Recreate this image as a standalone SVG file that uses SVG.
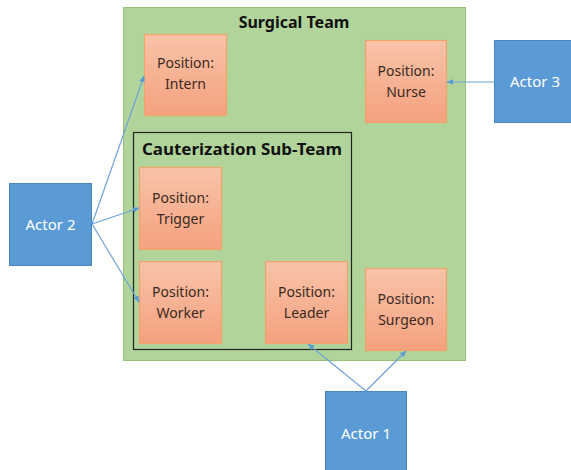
<svg xmlns="http://www.w3.org/2000/svg" width="571" height="470" viewBox="0 0 571 470">
<defs>
<linearGradient id="og" x1="0" y1="0" x2="0" y2="1">
<stop offset="0" stop-color="#f9c3a8"/>
<stop offset="1" stop-color="#f4a17f"/>
</linearGradient>
<marker id="ah" viewBox="0 0 10 10" refX="9" refY="5" markerWidth="7" markerHeight="7" orient="auto" markerUnits="userSpaceOnUse">
<path d="M0,1 L10,5 L0,9 z" fill="#5b9bd5"/>
</marker>
<style>
.team{fill:#b1d49a;stroke:#97c27b;stroke-width:1}
.sub{fill:none;stroke:#222;stroke-width:1.2}
.pos{fill:url(#og);stroke:#f0a46a;stroke-width:1.2}
.actor{fill:#5b9bd5;stroke:#4a87c2;stroke-width:1}
.pt{font-family:"Noto Sans","Liberation Sans",sans-serif;font-size:14px;fill:#3a2a22;text-anchor:middle}
.at{font-family:"Noto Sans","Liberation Sans",sans-serif;font-size:15px;fill:#ffffff;text-anchor:middle}
.tt{font-family:"Noto Sans","Liberation Sans",sans-serif;font-size:16px;font-weight:bold;fill:#111}
.con{stroke:#6fa3d8;stroke-width:1.2;fill:none;marker-end:url(#ah)}
</style>
</defs>
<g id="surgical-team">
<rect class="team" x="123.5" y="7.5" width="342" height="353"/>
<text class="tt" x="294" y="28" text-anchor="middle">Surgical Team</text>
</g>
<g id="cauterization-sub-team">
<rect class="sub" x="133.5" y="132.5" width="218" height="217"/>
<text class="tt" x="142" y="155" textLength="200" lengthAdjust="spacingAndGlyphs">Cauterization Sub-Team</text>
</g>
<g id="intern">
<rect class="pos" x="144.5" y="34.5" width="82" height="81"/>
<text class="pt" x="185.5" y="68">Position:</text>
<text class="pt" x="185.5" y="89">Intern</text>
</g>
<g id="nurse">
<rect class="pos" x="365.5" y="40.5" width="81" height="82"/>
<text class="pt" x="406" y="76">Position:</text>
<text class="pt" x="406" y="97">Nurse</text>
</g>
<g id="trigger">
<rect class="pos" x="139.5" y="167.5" width="82" height="82"/>
<text class="pt" x="180.5" y="203">Position:</text>
<text class="pt" x="180.5" y="224">Trigger</text>
</g>
<g id="worker">
<rect class="pos" x="139.5" y="261.5" width="82" height="82"/>
<text class="pt" x="180.5" y="297">Position:</text>
<text class="pt" x="180.5" y="318">Worker</text>
</g>
<g id="leader">
<rect class="pos" x="265.5" y="261.5" width="82" height="82"/>
<text class="pt" x="306.5" y="297">Position:</text>
<text class="pt" x="306.5" y="318">Leader</text>
</g>
<g id="surgeon">
<rect class="pos" x="365.5" y="268.5" width="81" height="82"/>
<text class="pt" x="406" y="304">Position:</text>
<text class="pt" x="406" y="325">Surgeon</text>
</g>
<g id="actor-1">
<rect class="actor" x="325.5" y="391.5" width="81" height="80"/>
<text class="at" x="366" y="439">Actor 1</text>
</g>
<g id="actor-2">
<rect class="actor" x="9.5" y="183.5" width="82" height="82"/>
<text class="at" x="50.5" y="230">Actor 2</text>
</g>
<g id="actor-3">
<rect class="actor" x="494.5" y="40.5" width="80" height="82"/>
<text class="at" x="535" y="87">Actor 3</text>
</g>
<g id="connectors">
<line class="con" x1="366" y1="391" x2="308" y2="344"/>
<line class="con" x1="366" y1="391" x2="406" y2="351"/>
<line class="con" x1="92" y1="224" x2="144" y2="76"/>
<line class="con" x1="92" y1="224" x2="139" y2="208"/>
<line class="con" x1="92" y1="224" x2="139" y2="302"/>
<line class="con" x1="494" y1="82" x2="447" y2="82"/>
</g>
</svg>
